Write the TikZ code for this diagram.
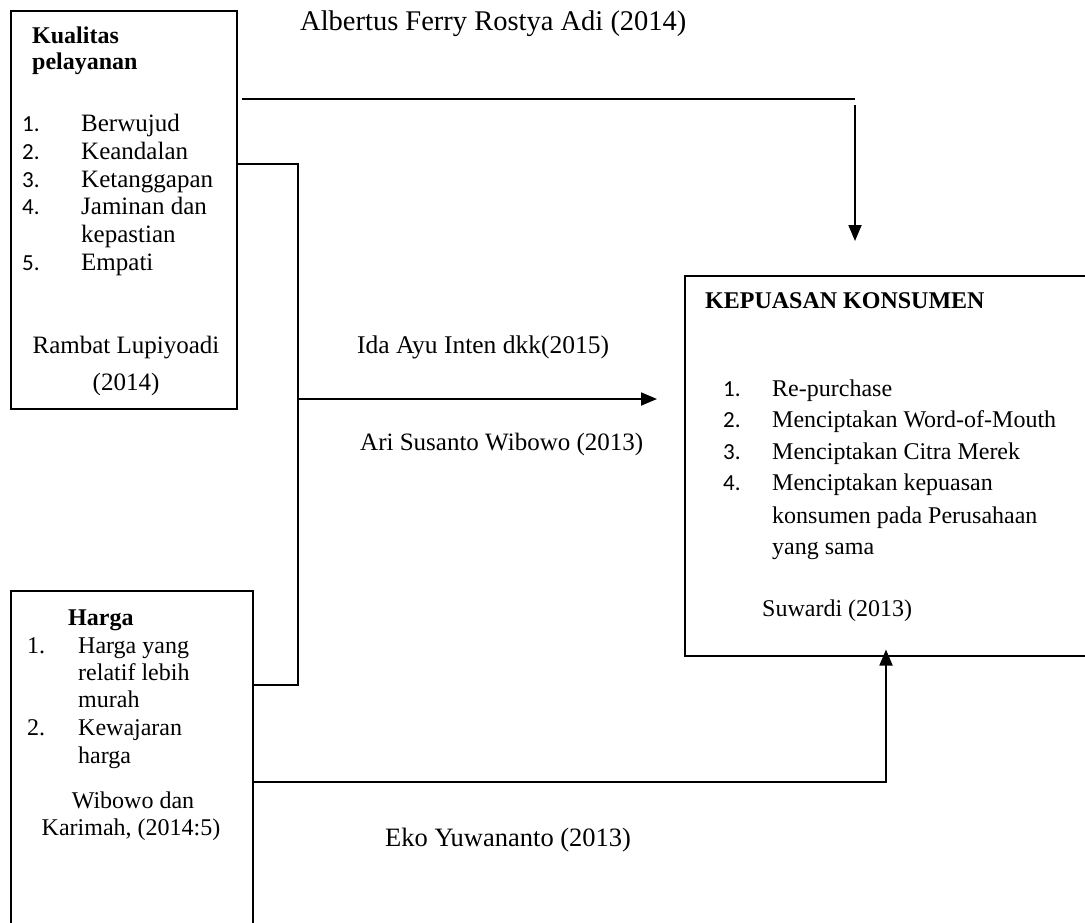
\documentclass[tikz,border=0pt]{standalone}
\usepackage{fontspec}
\setmainfont{Liberation Serif}
\newfontfamily\numfont{Carlito}
\usetikzlibrary{arrows.meta}
\begin{document}
\begin{tikzpicture}[x=1pt,y=-1pt,
  box/.style={draw,line width=1.5pt,inner sep=0pt,anchor=north west},
  txt/.style={anchor=mid west,inner sep=0pt,font=\fontsize{24}{28}\selectfont},
  ktxt/.style={anchor=mid west,inner sep=0pt,font=\fontsize{25}{29}\selectfont},
  ctxt/.style={anchor=mid,inner sep=0pt,font=\fontsize{24}{28}\selectfont},
  btxt/.style={anchor=mid west,inner sep=0pt,font=\fontsize{24}{28}\selectfont\bfseries},
  num/.style={anchor=mid west,inner sep=0pt,font=\fontsize{23}{26}\selectfont\numfont},
  snum/.style={anchor=mid west,inner sep=0pt,font=\fontsize{24}{28}\selectfont},
  lbl/.style={anchor=mid west,inner sep=0pt,font=\fontsize{25.5}{30}\selectfont},
  conn/.style={line width=1.8pt},
  arr/.style={conn,-{Triangle[width=13pt,length=16pt]}}]
\useasboundingbox (0,0) rectangle (1085,922);
\clip (0,0) rectangle (1085,922);
\fill[white] (0,0) rectangle (1085,922);
% boxes
\node[box,minimum width=226pt,minimum height=398pt] (kual) at (10,10) {};
\node[box,minimum width=242pt,minimum height=350pt] (harga) at (10,590) {};
\node[box,minimum width=411pt,minimum height=380pt] (kep) at (684,275) {};
% Kualitas box text
\node[btxt] (k0) at (32,41) {Kualitas};
\node[btxt] (k0b) at (32,67) {pelayanan};
\node[num] (kn1) at (22,129) {1.};
\node[ktxt] (k1) at (81,129) {Berwujud};
\node[num] (kn2) at (22,157) {2.};
\node[ktxt] (k2) at (81,157) {Keandalan};
\node[num] (kn3) at (22,185) {3.};
\node[ktxt] (k3) at (81,185) {Ketanggapan};
\node[num] (kn4) at (22,212) {4.};
\node[ktxt] (k4) at (81,212) {Jaminan dan};
\node[ktxt] (k4b) at (81,240) {kepastian};
\node[num] (kn5) at (22,268) {5.};
\node[ktxt] (k5) at (81,268) {Empati};
\node[ctxt,font=\fontsize{25}{29}\selectfont] (kc1) at (126,351) {Rambat Lupiyoadi};
\node[ctxt,font=\fontsize{25}{29}\selectfont] (kc2) at (126,388) {(2014)};
% Harga box text
\node[btxt] (h0) at (68,623) {Harga};
\node[snum] (hn1) at (27,651) {1.};
\node[txt] (h1) at (78,651) {Harga yang};
\node[txt] (h1b) at (78,678) {relatif lebih};
\node[txt] (h1c) at (78,705) {murah};
\node[snum] (hn2) at (27,733) {2.};
\node[txt] (h2) at (78,733) {Kewajaran};
\node[txt] (h2b) at (78,761) {harga};
\node[ctxt] (hc1) at (133,806) {Wibowo dan};
\node[ctxt] (hc2) at (131,833) {Karimah, (2014:5)};
% Kepuasan box text
\node[btxt] (p0) at (705,306) {KEPUASAN KONSUMEN};
\node[num] (pn1) at (723,394) {1.};
\node[txt] (p1) at (772,394) {Re-purchase};
\node[num] (pn2) at (723,425) {2.};
\node[txt] (p2) at (772,425) {Menciptakan Word-of-Mouth};
\node[num] (pn3) at (723,457) {3.};
\node[txt] (p3) at (772,457) {Menciptakan Citra Merek};
\node[num] (pn4) at (723,488) {4.};
\node[txt] (p4) at (772,488) {Menciptakan kepuasan};
\node[txt] (p4b) at (772,521) {konsumen pada Perusahaan};
\node[txt] (p4c) at (772,552) {yang sama};
\node[txt] (pc) at (762,614) {Suwardi (2013)};
% labels
\node[lbl,font=\fontsize{28.5}{33}\selectfont] (l1) at (300,28) {Albertus Ferry Rostya Adi (2014)};
\node[lbl] (l2) at (357,351) {Ida Ayu Inten dkk(2015)};
\node[lbl,font=\fontsize{25}{30}\selectfont] (l3) at (360,448) {Ari Susanto Wibowo (2013)};
\node[lbl,font=\fontsize{26.5}{30}\selectfont] (l4) at (385,844) {Eko Yuwananto (2013)};
% connectors
\coordinate (kj) at (298,164);
\coordinate (hj) at (298,685);
\coordinate (aj) at (298,399);
\coordinate (ts) at (242,99);
\coordinate (te) at (855,99);
\coordinate (tv) at (855,105);
\coordinate (bc) at (886,782);
\draw[conn] (kual.east |- kj) -- (kj) -- (hj) -- (harga.east |- hj);
\draw[arr,shorten >=27pt] (aj) -- (kep.west |- aj);
\draw[conn] (ts) -- (te);
\draw[arr,shorten >=34pt] (tv) -- (kep.north -| tv);
\draw[arr,shorten >=-7pt] (harga.east |- bc) -- (bc) -- (kep.south -| bc);
\end{tikzpicture}
\end{document}
